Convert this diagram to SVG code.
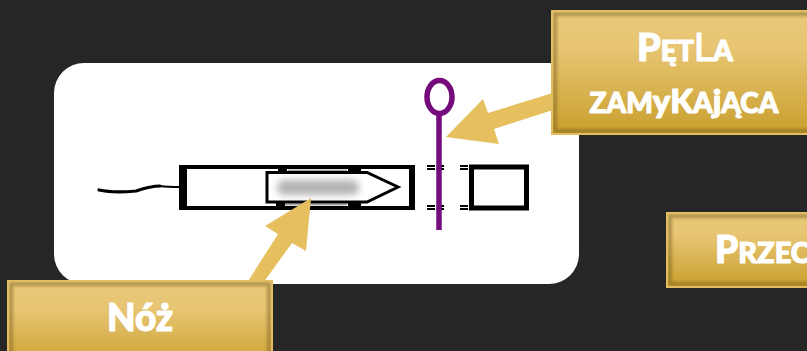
<svg xmlns="http://www.w3.org/2000/svg" width="807" height="351" viewBox="0 0 807 351">
<style>
.lab{font-family:"Lato","Open Sans",sans-serif;font-weight:900;fill:#fff;stroke:#fff;stroke-width:1.100px;stroke-linejoin:round;text-anchor:middle}
.big{font-size:38px}.sm{font-size:28px}.tall{font-size:33px}
.box{fill:url(#g);stroke:#e2bd62;stroke-width:2}
.inner{fill:none;stroke:#6b5216;stroke-width:4;opacity:.45;filter:url(#b)}
.ink{fill:none;stroke:#000}
.tick{fill:#000}
.arrow{fill:#e6bf5f}
</style>
<defs>
<linearGradient id="g" x1="0" y1="0" x2="0" y2="1">
<stop offset="0" stop-color="#e8c878"/><stop offset=".3" stop-color="#e7c573"/><stop offset="1" stop-color="#c99f2d"/>
</linearGradient>
<filter id="b" x="-10%" y="-10%" width="120%" height="120%"><feGaussianBlur stdDeviation="1.6"/></filter>
<filter id="b2" x="-20%" y="-40%" width="140%" height="180%"><feGaussianBlur stdDeviation="3.5"/></filter>
<filter id="s" x="-10%" y="-10%" width="120%" height="120%"><feGaussianBlur stdDeviation=".4"/></filter>
<clipPath id="c1"><rect x="553" y="12" width="264" height="121"/></clipPath>
<clipPath id="c2"><rect x="668" y="214" width="150" height="72"/></clipPath>
<clipPath id="c3"><rect x="9" y="282" width="262" height="80"/></clipPath>
</defs>
<rect width="807" height="351" fill="#262626"/>
<g id="photo">
<rect x="54" y="63" width="525" height="221" rx="30" fill="#fff"/>
<g id="device" filter="url(#s)">
<path class="ink" stroke-width="3.200" stroke-linecap="round" d="M99 190C108 192 125 192 136 191C145 188 152 186 160 186"/>
<path class="ink" stroke-width="1.800" d="M160 186C167 187 172 187 180 187"/>
<rect x="179" y="165" width="8" height="45" class="tick"/>
<path class="ink" stroke-width="4.200" d="M181 167H414M181 208H414"/>
<path class="ink" stroke-width="6" d="M412 165V210"/>
<path class="tick" d="M278 167H287V173H278ZM348 167H361V173H348ZM276 203H285V208H276ZM348 203H361V208H348Z"/>
<path stroke="#a8a8a8" stroke-width="2" d="M288 170.500H347M285 204.500H347"/>
<path class="ink" stroke-width="3" d="M367 172.500H267V202H367L398 187L367 172.500Z"/>
<rect x="277" y="180" width="82" height="15" rx="7" fill="#b4b4b4" filter="url(#b2)"/>
<path class="ink" stroke-width="2" d="M427 166H444M427 169H444M427 206H444M427 209H444M460 166H470M460 169H470M460 206H470M460 209H470" stroke-dasharray="8 1.500"/>
<rect x="471.500" y="167" width="55" height="41" class="ink" stroke-width="5"/>
</g>
<g id="loop" fill="none" stroke="#740a7c">
<ellipse cx="439.500" cy="97" rx="12.500" ry="16.500" stroke-width="5.500"/>
<path stroke-width="5.500" d="M439 113V230"/>
</g>
</g>
<g id="connectors">
<path class="arrow" d="M446 137L483 99L488 113L556 92L556 109L494 129L499 144Z"/>
<path class="arrow" d="M311 198L265 226L278 234L245 286L258 290L292 243L306 251Z"/>
</g>
<g id="n1">
<rect class="box" x="552" y="11" width="266" height="123"/>
<rect class="inner" x="555" y="14" width="260" height="117" clip-path="url(#c1)"/>
<text class="lab" x="685" y="61"><tspan class="big">P</tspan><tspan class="sm">ĘT</tspan><tspan class="big" font-weight="400">L</tspan><tspan class="sm">A</tspan></text>
<text class="lab" x="684" y="113"><tspan class="sm">ZAM</tspan><tspan class="tall">y</tspan><tspan class="tall">K</tspan><tspan class="sm">A</tspan><tspan class="tall">j</tspan><tspan class="sm">ĄCA</tspan></text>
</g>
<g id="n2">
<rect class="box" x="667" y="213" width="152" height="74"/>
<rect class="inner" x="670" y="216" width="150" height="68" clip-path="url(#c2)"/>
<text class="lab" x="715" y="263" style="text-anchor:start"><tspan font-size="37">P</tspan><tspan font-size="29">RZEC</tspan></text>
</g>
<g id="n3">
<rect class="box" x="8" y="281" width="264" height="90"/>
<rect class="inner" x="11" y="284" width="258" height="84" clip-path="url(#c3)"/>
<text class="lab" x="140" y="331" font-size="37">Nóż</text>
</g>
</svg>
